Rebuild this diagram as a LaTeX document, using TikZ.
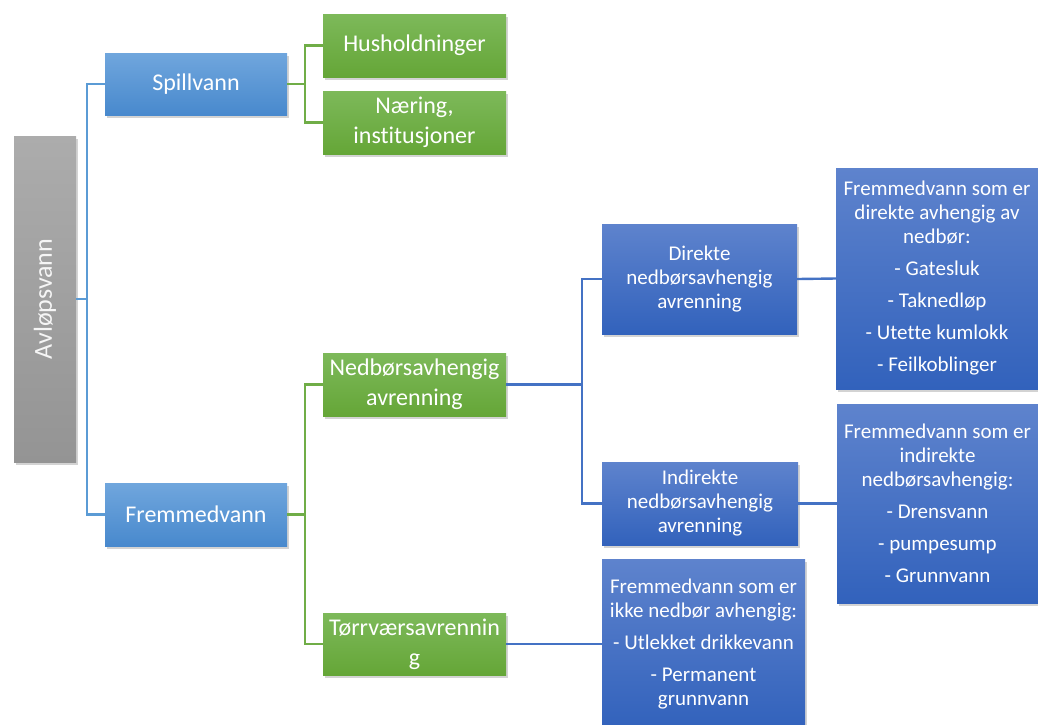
\documentclass[tikz,border=0pt]{standalone}
\usepackage{fontspec}
\setmainfont{Carlito}[Ligatures=NoCommon]
\usepackage{tikz}
\usetikzlibrary{shadows}
\definecolor{graytop}{RGB}{172, 172, 172}
\definecolor{graybot}{RGB}{148, 148, 148}
\definecolor{lightbluetop}{RGB}{112, 166, 221}
\definecolor{lightbluebot}{RGB}{72, 137, 205}
\definecolor{greentop}{RGB}{125, 185, 90}
\definecolor{greenbot}{RGB}{101, 166, 55}
\definecolor{darkbluetop}{RGB}{94, 131, 205}
\definecolor{darkbluebot}{RGB}{50, 98, 188}
\definecolor{linelightblue}{RGB}{91, 155, 213}
\definecolor{linegreen}{RGB}{112, 173, 71}
\definecolor{linedarkblue}{RGB}{68, 114, 196}

\tikzset{
    box/.style={inner sep=0pt, align=center, text=white,
        drop shadow={shadow xshift=2pt, shadow yshift=-3pt, opacity=0.35}},
    graybox/.style={box, top color=graytop, bottom color=graybot,
        font=\fontsize{26}{30}\selectfont, text=white!92!gray},
    bluebox/.style={box, top color=lightbluetop, bottom color=lightbluebot,
        font=\fontsize{24}{30}\selectfont},
    greenbox/.style={box, top color=greentop, bottom color=greenbot,
        font=\fontsize{24}{30}\selectfont},
    darkbox/.style={box, top color=darkbluetop, bottom color=darkbluebot,
        font=\fontsize{21}{24}\selectfont},
    tree/.style={line width=2.4pt}
}

\begin{document}
\begin{tikzpicture}[x=1pt, y=-1pt]
        \useasboundingbox (0,0) rectangle (1038,724);

        % Main box
        \node[graybox, minimum width=62, minimum height=326] (avl) at (45,299) {\rotatebox{90}{Avløpsvann}};

        % First level
        \node[bluebox, minimum width=182, minimum height=62] (spill) at (196,84) {Spillvann};
        \node[bluebox, minimum width=182, minimum height=63] (fremmed) at (196,514.5) {Fremmedvann};

        % Second level
        \node[greenbox, minimum width=183, minimum height=63] (hus) at (414.5,45.5) {Husholdninger};
        \node[greenbox, minimum width=183, minimum height=63] (naering) at (414.5,122.5) {Næring,\\institusjoner};
        \node[greenbox, minimum width=183, minimum height=63] (nedbor) at (414.5,384.5) {Nedbørsavhengig\\avrenning};
        \node[greenbox, minimum width=183, minimum height=62] (torr) at (414.5,644) {Tørrværsavrennin\\g};

        % Third level
        \node[darkbox, minimum width=195, minimum height=110] (direkte) at (699.5,279) {Direkte\\nedbørsavhengig\\avrenning};
        \node[darkbox, minimum width=196, minimum height=83] (indirekte) at (700,503.5) {Indirekte\\nedbørsavhengig\\avrenning};
        \node[darkbox, minimum width=203, minimum height=170] (torrliste) at (703.5,644)
            {Fremmedvann som er\\ikke nedbør avhengig:\\[8pt]- Utlekket drikkevann\\[8pt]- Permanent\\grunnvann};

        % Lists
        \node[darkbox, minimum width=202, minimum height=221] (dirliste) at (937,278.5)
            {Fremmedvann som er\\direkte avhengig av\\nedbør:\\[8pt]- Gatesluk\\[8pt]- Taknedløp\\[8pt]- Utette kumlokk\\[8pt]- Feilkoblinger};
        \node[darkbox, minimum width=201, minimum height=199] (indliste) at (937.5,503.5)
            {Fremmedvann som er\\indirekte\\nedbørsavhengig:\\[8pt]- Drensvann\\[8pt]- pumpesump\\[8pt]- Grunnvann};

        % Connectors
        \coordinate (split1) at (87,299);
        \coordinate (split2) at (305,84);
        \coordinate (split3) at (305,514.5);
        \coordinate (split4) at (582,384.5);
        \draw[tree, linelightblue] (avl.east) -- (split1) |- (spill.west);
        \draw[tree, linelightblue] (split1) |- (fremmed.west);
        \draw[tree, linegreen] (spill.east) -- (split2) |- (hus.west);
        \draw[tree, linegreen] (split2) |- (naering.west);
        \draw[tree, linegreen] (fremmed.east) -- (split3) |- (nedbor.west);
        \draw[tree, linegreen] (split3) |- (torr.west);
        \draw[tree, linedarkblue] (nedbor.east) -- (split4) |- (direkte.west);
        \draw[tree, linedarkblue] (split4) |- (indirekte.west);
        \draw[tree, linedarkblue] (direkte.east) -- (dirliste.west);
        \draw[tree, linedarkblue] (indirekte.east) -- (indliste.west);
        \draw[tree, linedarkblue] (torr.east) -- (torrliste.west);
    \end{tikzpicture}
\end{document}
